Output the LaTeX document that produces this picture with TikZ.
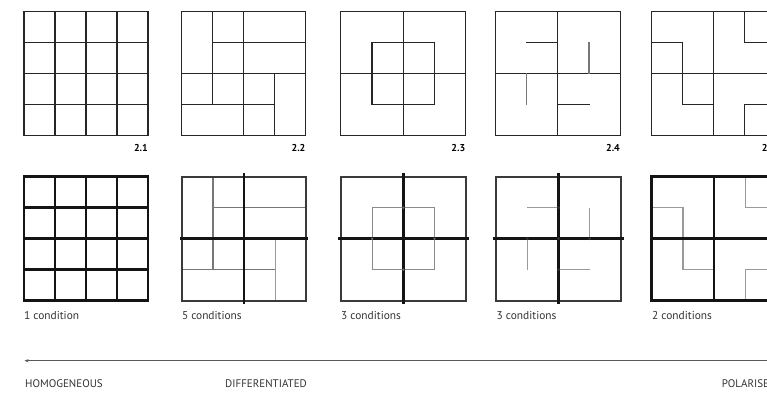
\documentclass[tikz,border=0pt]{standalone}
\usepackage{fontspec}
\setmainfont{PT Sans}
\usetikzlibrary{arrows.meta}
\definecolor{lineA}{HTML}{262626}
\definecolor{outerC}{HTML}{3A3A3A}
\definecolor{midC}{HTML}{777777}
\definecolor{lightC}{HTML}{9A9A9A}
\definecolor{txtC}{HTML}{333333}
\tikzset{
  topl/.style={line width=1.1pt, draw=lineA, line cap=rect},
  boldl/.style={line width=2.7pt, draw=black!92, line cap=rect},
  outerl/.style={line width=2pt, draw=outerC, line cap=rect},
  midl/.style={line width=1.5pt, draw=midC},
  thinl/.style={line width=1.1pt, draw=lightC},
  numlabel/.style={font=\bfseries\fontsize{10}{11}\selectfont, text=black, inner sep=0pt, anchor=base east},
  caption/.style={font=\fontsize{11.4}{12}\selectfont, text=txtC, inner sep=0pt, anchor=base west},
  scalelabel/.style={font=\fontsize{11}{12}\selectfont, text=txtC, inner sep=0pt, anchor=base west},
  jdot/.style={fill=black!80, draw=none},
}
\begin{document}
\begin{tikzpicture}[x=1pt,y=-1pt]
\useasboundingbox (0,0) rectangle (767,392);
\clip (0,0) rectangle (767,392);
\fill[white] (0,0) rectangle (767,392);

% ---------------- TOP ROW ----------------
% 2.1
\begin{scope}[xshift=24pt,yshift=-11.3pt,x=31pt,y=-31pt]
\draw[topl] (0,0) rectangle (4,4);
\foreach \i in {1,2,3} {\draw[topl] (\i,0)--(\i,4); \draw[topl] (0,\i)--(4,\i);}
\end{scope}
% 2.2
\begin{scope}[xshift=181.3pt,yshift=-11.3pt,x=31.15pt,y=-31pt]
\draw[topl] (0,0) rectangle (4,4);
\draw[topl] (1,0)--(1,3);
\draw[topl] (2,0)--(2,4);
\draw[topl] (3,2)--(3,4);
\draw[topl] (1,1)--(4,1);
\draw[topl] (0,2)--(4,2);
\draw[topl] (0,3)--(3,3);
\end{scope}
% 2.3
\begin{scope}[xshift=340.8pt,yshift=-11.3pt,x=31.15pt,y=-31pt]
\draw[topl] (0,0) rectangle (4,4);
\draw[topl] (2,0)--(2,4);
\draw[topl] (0,2)--(4,2);
\draw[topl] (1,1) rectangle (3,3);
\end{scope}
% 2.4
\begin{scope}[xshift=495.5pt,yshift=-11.3pt,x=31.15pt,y=-31pt]
\draw[topl] (0,0) rectangle (4,4);
\draw[topl] (2,0)--(2,4);
\draw[topl] (0,2)--(4,2);
\draw[topl] (1,1)--(2,1);
\draw[topl,draw=midC] (3,1)--(3,2);
\draw[topl,draw=midC] (1,2)--(1,3);
\draw[topl] (2,3)--(3,3);
\end{scope}
% 2.5
\begin{scope}[xshift=651.3pt,yshift=-11.3pt,x=31.15pt,y=-31pt]
\draw[topl] (0,0) rectangle (4,4);
\draw[topl] (2,0)--(2,4);
\draw[topl] (0,2)--(4,2);
\draw[topl] (0,1)--(1,1)--(1,3)--(2,3);
\draw[topl] (3,0)--(3,1)--(4,1);
\draw[topl] (3,4)--(3,3)--(4,3);
\end{scope}

\node[numlabel] (l21) at (148,151.8) {2.1};
\node[numlabel] (l22) at (305.6,151.8) {2.2};
\node[numlabel] (l23) at (465.4,151.8) {2.3};
\node[numlabel] (l24) at (620.1,151.8) {2.4};
\node[numlabel] (l25) at (775.9,151.8) {2.5};

% ---------------- BOTTOM ROW ----------------
% 1 condition
\begin{scope}[xshift=24pt,yshift=-176.7pt,x=31pt,y=-31pt]
\draw[boldl] (0,0) rectangle (4,4);
\foreach \i in {1,2,3} {\draw[boldl] (\i,0)--(\i,4); \draw[boldl] (0,\i)--(4,\i);}
\end{scope}
% 5 conditions
\begin{scope}[xshift=181.8pt,yshift=-176.7pt,x=31.15pt,y=-31pt]
\draw[midl] (1,0)--(1,3);
\draw[midl] (1,1)--(4,1);
\draw[midl] (0,3)--(3,3);
\draw[thinl] (3,1.93)--(3,4);
\draw[outerl] (0,0) rectangle (4,4);
\draw[boldl] (0,2)--(4,2);
\draw[boldl] (2,-0.06)--(2,4.06);
\end{scope}
% 3 conditions (2.3)
\begin{scope}[xshift=341pt,yshift=-176.7pt,x=31.15pt,y=-31pt]
\draw[thinl,draw=midC!85] (1,1) rectangle (3,3);
\draw[outerl] (0,0) rectangle (4,4);
\draw[boldl] (2,-0.06)--(2,4.06);
\draw[boldl] (-0.06,2)--(4.06,2);
\foreach \p in {(1,2),(3,2),(2,1),(2,3)} {\fill[midC] \p circle (1.2pt);}
\end{scope}
% 3 conditions (2.4)
\begin{scope}[xshift=496.2pt,yshift=-176.7pt,x=31.15pt,y=-31pt]
\draw[thinl] (1,1)--(2,1);
\draw[thinl] (3,1)--(3,2);
\draw[thinl] (1,2)--(1,3);
\draw[thinl] (2,3)--(3,3);
\draw[outerl] (0,0) rectangle (4,4);
\draw[boldl] (2,-0.06)--(2,4.06);
\draw[boldl] (-0.06,2)--(4.06,2);
\foreach \p in {(1,2),(3,2),(2,1),(2,3),(2,2)} {\fill[jdot] \p circle (1.5pt);}
\end{scope}
% 2 conditions (2.5)
\begin{scope}[xshift=651.8pt,yshift=-176.7pt,x=31.15pt,y=-31pt]
\draw[thinl] (0,1)--(1,1)--(1,3)--(2,3);
\draw[thinl] (3,0)--(3,1)--(4,1);
\draw[thinl] (3,4)--(3,3)--(4,3);
\draw[boldl] (0,0) rectangle (4,4);
\draw[boldl] (2,0)--(2,4);
\draw[boldl] (0,2)--(4,2);
\end{scope}

\node[caption] (c1) at (24,319.5) {1 condition};
\node[caption] (c2) at (181.8,319.5) {5 conditions};
\node[caption] (c3) at (341,319.5) {3 conditions};
\node[caption] (c4) at (496.5,319.5) {3 conditions};
\node[caption] (c5) at (652,319.5) {2 conditions};

% ---------------- SCALE ----------------
\coordinate (arrR) at (790,360.7);
\coordinate (arrL) at (24.5,360.7);
\draw[line width=0.9pt, draw=black!65, -{Stealth[length=4pt,width=3.2pt]}] (arrR) -- (arrL);

\node[scalelabel] (h1) at (25,387.3) {HOMOGENEOUS};
\node[scalelabel] (h2) at (225,387.3) {DIFFERENTIATED};
\node[scalelabel] (h3) at (721.7,387.3) {POLARISED};
\end{tikzpicture}
\end{document}
